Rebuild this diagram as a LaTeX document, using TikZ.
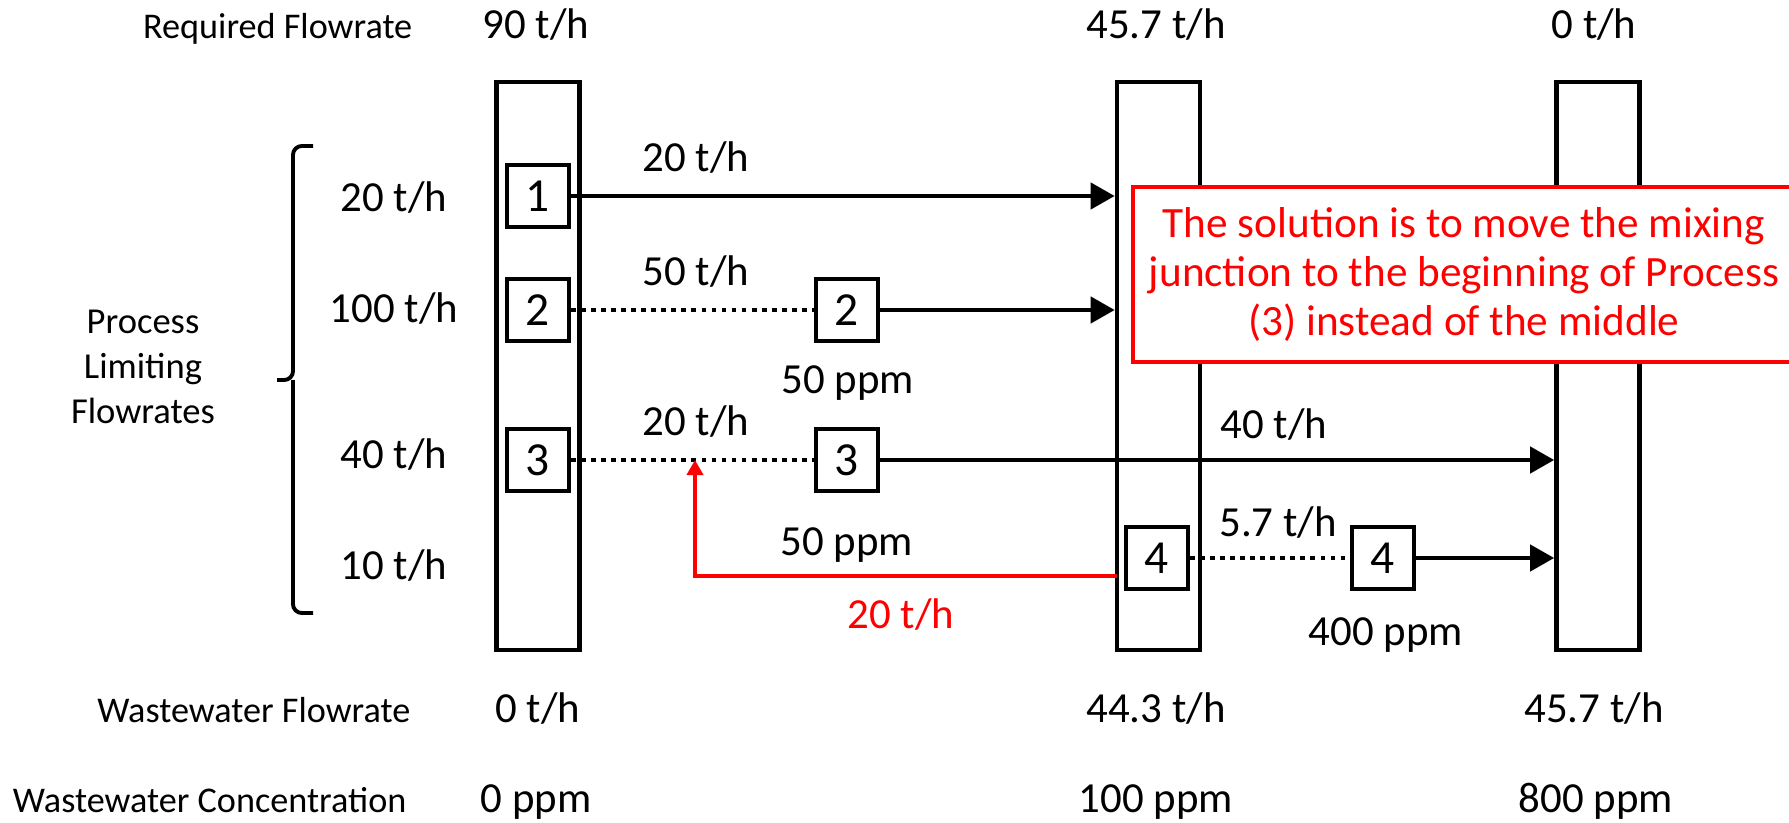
\documentclass[tikz,border=0pt]{standalone}
\usepackage{fontspec}
\setmainfont{Carlito}
\usetikzlibrary{arrows.meta,positioning,decorations.pathreplacing}

\begin{document}
\begin{tikzpicture}[
  col/.style={draw, line width=1.3pt, minimum width=0.83cm, minimum height=5.68cm, inner sep=0pt},
  pbox/.style={draw, line width=1.3pt, fill=white, minimum size=0.62cm, inner sep=0pt, font=\fontsize{13.5}{15}\selectfont},
  lbl/.style={anchor=base east, inner sep=0pt, font=\fontsize{10.3}{12}\selectfont},
  val/.style={anchor=base, font=\fontsize{12.2}{14}\selectfont},
  arr/.style={-{Triangle[length=2.4mm, width=2.6mm]}, line width=1.2pt},
  dots/.style={line width=1.4pt, dash pattern=on 1.4pt off 1.45pt},
  fback/.style={-{Triangle[length=1.5mm, width=1.6mm]}, red, line width=1.3pt},
  note/.style={draw=red, line width=0.9pt, fill=white, text=red, align=center, font=\fontsize{12.3}{14}\selectfont}
]
\path[fill=white] (0,0) rectangle (17.89,8.22);
\useasboundingbox (0,0) rectangle (17.89,8.22);

% header and footer rows
\node[lbl] (reqL) at (4.13,7.83) {Required Flowrate};
\node[val] (req1) at (5.36,7.83) {90 t/h};
\node[val] (req2) at (11.56,7.83) {45.7 t/h};
\node[val] (req3) at (15.94,7.83) {0 t/h};

\node[lbl] (wfL) at (4.11,1.00) {Wastewater Flowrate};
\node[val] (wf1) at (5.38,1.00) {0 t/h};
\node[val] (wf2) at (11.56,1.00) {44.3 t/h};
\node[val] (wf3) at (15.94,1.00) {45.7 t/h};

\node[lbl] (wcL) at (4.07,0.10) {Wastewater Concentration};
\node[val] (wc1) at (5.36,0.10) {0 ppm};
\node[val] (wc2) at (11.56,0.10) {100 ppm};
\node[val] (wc3) at (15.96,0.10) {800 ppm};

% limiting flowrates
\node[align=center, font=\fontsize{10.4}{12.8}\selectfont] (plf) at (1.43,4.55) {Process\\Limiting\\Flowrates};
\draw[line width=1.1pt, rounded corners=2.5pt] (3.13,6.76) -| (2.93,4.42) -- (2.77,4.42);
\draw[line width=1.1pt, rounded corners=2.5pt] (3.13,2.09) -| (2.93,4.42);
\node[val] (lim1) at (3.94,6.10) {20 t/h};
\node[val] (lim2) at (3.94,5.00) {100 t/h};
\node[val] (lim3) at (3.94,3.54) {40 t/h};
\node[val] (lim4) at (3.94,2.43) {10 t/h};

% mains
\node[col] (M1) at (5.38,4.56) {};
\node[col] (M2) at (11.585,4.56) {};
\node[col] (M3) at (15.98,4.56) {};

% processes
\node[pbox] (B1) at (5.38,6.26) {1};
\node[pbox] (B2) at (5.38,5.12) {2};
\node[pbox] (B3) at (5.38,3.62) {3};
\node[pbox] (B2b) at (8.47,5.12) {2};
\node[pbox] (B3b) at (8.47,3.62) {3};
\node[pbox] (B4) at (11.57,2.64) {4};
\node[pbox] (B4b) at (13.83,2.64) {4};

\draw[arr] (B1.east) -- (M2.west |- B1);
\draw[dots] (B2.east) -- (B2b.west);
\draw[arr] (B2b.east) -- (M2.west |- B2b);
\draw[dots] (B3.east) -- (B3b.west);
\draw[arr] (B3b.east) -- (M3.west |- B3b);
\draw[dots] (B4.east) -- (B4b.west);
\draw[arr] (B4b.east) -- (M3.west |- B4b);

\node[val] (f1) at (6.96,6.50) {20 t/h};
\node[val] (f2) at (6.96,5.37) {50 t/h};
\node[val] (c2) at (8.48,4.29) {50 ppm};
\node[val] (f3) at (6.96,3.87) {20 t/h};
\node[val] (f3b) at (12.74,3.84) {40 t/h};
\node[val] (c3) at (8.47,2.67) {50 ppm};
\node[val] (f4) at (12.78,2.85) {5.7 t/h};
\node[val] (c4) at (13.86,1.77) {400 ppm};

% red feedback
\coordinate (fbs) at (11.17,2.46);
\coordinate (fbt) at (6.95,3.62);
\draw[fback] (fbs) -| (fbt);
\node[val, text=red] (fr) at (9.01,1.94) {20 t/h};

\node[note, minimum width=6.62cm, minimum height=1.75cm] (N) at (14.64,5.475)
  {The solution is to move the mixing\\junction to the beginning of Process\\(3) instead of the middle};

\end{tikzpicture}
\end{document}
